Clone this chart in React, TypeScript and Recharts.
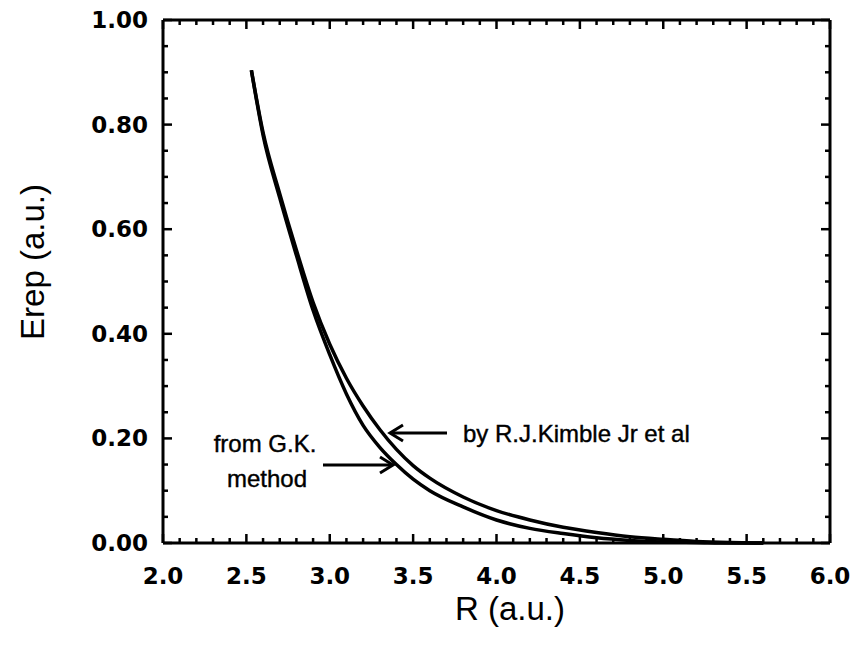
import { Line, LineChart, XAxis, YAxis } from "recharts";

// R (a.u.) sample positions
const rValues = [2.53, 2.6, 2.7, 2.8, 2.9, 3.0, 3.1, 3.2, 3.3, 3.4, 3.5, 3.6, 3.8, 4.0, 4.2, 4.4, 4.6, 4.8, 5.0, 5.2, 5.4, 5.6];
// lower curve, "from G.K. method"
const gkValues = [0.904, 0.78, 0.66, 0.55, 0.445, 0.36, 0.285, 0.225, 0.183, 0.15, 0.122, 0.1, 0.069, 0.044, 0.028, 0.018, 0.01, 0.005, 0.002, 0.001, 0.0, 0.0];
// upper curve, "by R.J.Kimble Jr et al"
const kimbleValues = [0.904, 0.785, 0.668, 0.56, 0.46, 0.38, 0.315, 0.262, 0.217, 0.179, 0.148, 0.124, 0.088, 0.062, 0.044, 0.03, 0.02, 0.012, 0.007, 0.003, 0.001, 0.0];

const xMajorTicks = [2.0, 2.5, 3.0, 3.5, 4.0, 4.5, 5.0, 5.5, 6.0];
const yMajorTicks = [0.0, 0.2, 0.4, 0.6, 0.8, 1.0];
const xTicks = Array.from({ length: 41 }, (_, i) => +(2 + i * 0.1).toFixed(1));
const yTicks = Array.from({ length: 21 }, (_, i) => +(i * 0.05).toFixed(2));

const data = rValues.map((r, i) => ({ r, gk: gkValues[i], kimble: kimbleValues[i] }));

const isMajor = (v: number, majors: number[]) => majors.some((m) => Math.abs(m - v) < 1e-6);

const tickFont = { fontFamily: "DejaVu Sans", fontWeight: 700, fontSize: 23, fill: "#000" };
const MAJOR = 9;
const MINOR = 5;

const BottomTick = (props: any) => {
  const { x, y, payload } = props;
  const major = isMajor(payload.value, xMajorTicks);
  return (
    <g>
      <line x1={x} x2={x} y1={y} y2={y - (major ? MAJOR : MINOR)} stroke="#000" strokeWidth={2.5} />
      {major && (
        <text x={x} y={y + 41} textAnchor="middle" style={tickFont}>
          {payload.value.toFixed(1)}
        </text>
      )}
    </g>
  );
};

const TopTick = (props: any) => {
  const { x, y, payload } = props;
  const major = isMajor(payload.value, xMajorTicks);
  return <line x1={x} x2={x} y1={y} y2={y + (major ? MAJOR : MINOR)} stroke="#000" strokeWidth={2.5} />;
};

const LeftTick = (props: any) => {
  const { x, y, payload } = props;
  const major = isMajor(payload.value, yMajorTicks);
  return (
    <g>
      <line x1={x} x2={x + (major ? MAJOR : MINOR)} y1={y} y2={y} stroke="#000" strokeWidth={2.5} />
      {major && (
        <text x={x - 15} y={y + 8} textAnchor="end" style={tickFont}>
          {payload.value.toFixed(2)}
        </text>
      )}
    </g>
  );
};

const RightTick = (props: any) => {
  const { x, y, payload } = props;
  const major = isMajor(payload.value, yMajorTicks);
  return <line x1={x} x2={x - (major ? MAJOR : MINOR)} y1={y} y2={y} stroke="#000" strokeWidth={2.5} />;
};

const noteFont = { fontFamily: "Liberation Sans", fontSize: 24, fill: "#000", stroke: "#000", strokeWidth: 0.4 };
const titleFont = { fontFamily: "Liberation Sans", fontSize: 33, fill: "#000" };

export default function App() {
  return (
    <div style={{ position: "absolute", left: 0, top: 0, width: 857, height: 647, background: "#fff" }}>
      <LineChart width={857} height={647} data={data} margin={{ top: 19, right: 26, bottom: 0, left: 0 }}>
        <XAxis
          xAxisId="bottom"
          dataKey="r"
          type="number"
          domain={[2, 6]}
          ticks={xTicks}
          interval={0}
          height={104}
          tickSize={0}
          tickMargin={0}
          tick={<BottomTick />}
          axisLine={{ stroke: "#000", strokeWidth: 3 }}
          tickLine={false}
        />
        <XAxis
          xAxisId="top"
          orientation="top"
          dataKey="r"
          type="number"
          domain={[2, 6]}
          ticks={xTicks}
          interval={0}
          height={1}
          tickSize={0}
          tickMargin={0}
          tick={<TopTick />}
          axisLine={{ stroke: "#000", strokeWidth: 3 }}
          tickLine={false}
        />
        <YAxis
          yAxisId="left"
          type="number"
          domain={[0, 1]}
          ticks={yTicks}
          interval={0}
          width={163}
          tickSize={0}
          tickMargin={0}
          tick={<LeftTick />}
          axisLine={{ stroke: "#000", strokeWidth: 3 }}
          tickLine={false}
        />
        <YAxis
          yAxisId="right"
          orientation="right"
          type="number"
          domain={[0, 1]}
          ticks={yTicks}
          interval={0}
          width={1}
          tickSize={0}
          tickMargin={0}
          tick={<RightTick />}
          axisLine={{ stroke: "#000", strokeWidth: 3 }}
          tickLine={false}
        />
        <Line
          xAxisId="bottom"
          yAxisId="left"
          dataKey="gk"
          type="monotone"
          stroke="#000"
          strokeWidth={3.5}
          dot={false}
          isAnimationActive={false}
        />
        <Line
          xAxisId="bottom"
          yAxisId="left"
          dataKey="kimble"
          type="monotone"
          stroke="#000"
          strokeWidth={3.5}
          dot={false}
          isAnimationActive={false}
        />
        <Line
          xAxisId="top"
          yAxisId="right"
          dataKey="gk"
          type="monotone"
          stroke="transparent"
          strokeWidth={0}
          dot={false}
          isAnimationActive={false}
        />
      </LineChart>
      <svg
        width={857}
        height={647}
        style={{ position: "absolute", left: 0, top: 0, pointerEvents: "none" }}
      >
        <text x={463} y={442} style={noteFont}>
          by R.J.Kimble Jr et al
        </text>
        <line x1={447} y1={433} x2={391} y2={433} stroke="#000" strokeWidth={3} />
        <polyline points="403,425 390,433 403,441" fill="none" stroke="#000" strokeWidth={3} />
        <text x={265} y={452} textAnchor="middle" style={noteFont}>
          from G.K.
        </text>
        <text x={267} y={487} textAnchor="middle" style={noteFont}>
          method
        </text>
        <line x1={323} y1={465} x2={392} y2={465} stroke="#000" strokeWidth={3} />
        <polyline points="380,457 393,465 380,473" fill="none" stroke="#000" strokeWidth={3} />
        <text x={510} y={620} textAnchor="middle" style={titleFont}>
          R (a.u.)
        </text>
        <text x={44} y={262} textAnchor="middle" transform="rotate(-90 44 262)" style={titleFont}>
          Erep (a.u.)
        </text>
      </svg>
    </div>
  );
}
